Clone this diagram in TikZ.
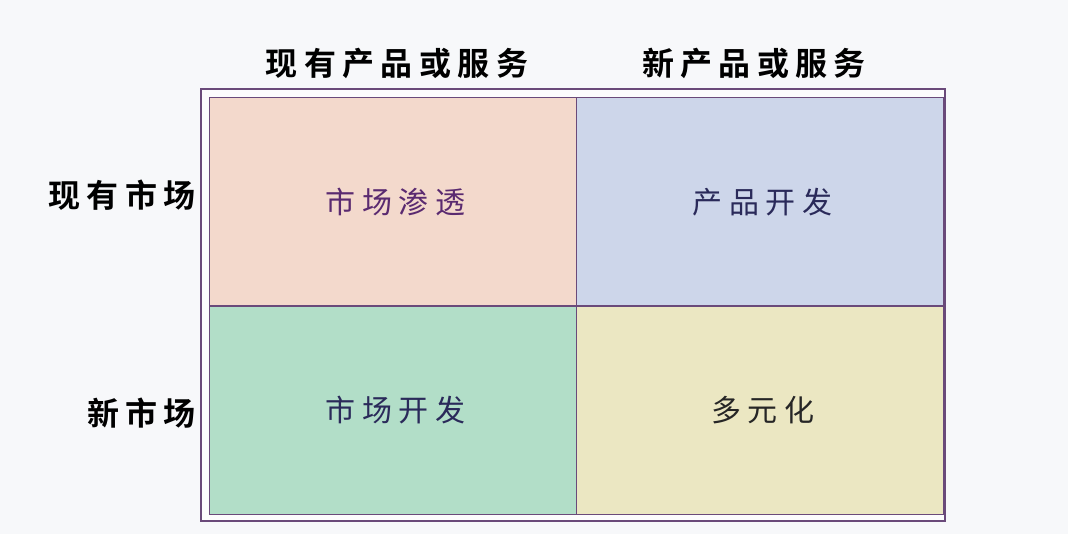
\documentclass[tikz,border=0pt]{standalone}
\usepackage{fontspec}
\newfontfamily\cjk{Noto Sans CJK SC}
\newfontfamily\cjkb{Noto Sans CJK SC Bold}[LetterSpace=20]
\newfontfamily\cjkl{Noto Sans CJK SC}[LetterSpace=22]
\definecolor{bg}{HTML}{F7F8FA}
\definecolor{frame}{HTML}{6A4A7A}
\definecolor{cpeach}{HTML}{F3D9CC}
\definecolor{cblue}{HTML}{CDD6EA}
\definecolor{cgreen}{HTML}{B2DEC8}
\definecolor{cyellow}{HTML}{EBE7C2}
\definecolor{tpurple}{HTML}{5A2A70}
\definecolor{tnavy}{HTML}{2A2A5A}
\tikzset{
  head/.style={font=\cjkb\fontsize{32}{32}\selectfont, text=black, inner sep=0pt},
  cell/.style={draw=frame, line width=1.2pt, minimum width=367pt, minimum height=208.5pt, inner sep=0pt},
  lab/.style={font=\cjkl\fontsize{30}{30}\selectfont, inner sep=0pt},
}
\begin{document}
\begin{tikzpicture}[x=1pt,y=-1pt]
\fill[bg] (0,0) rectangle (1068,534);
\useasboundingbox (0,0) rectangle (1068,534);
\draw[frame, line width=1.6pt, fill=white!60!bg] (201,89) rectangle (945,521);
\node[cell, fill=cpeach, anchor=north west] (tl) at (208.5,97) {};
\node[cell, fill=cblue, anchor=north west] (tr) at (575.5,97) {};
\node[cell, fill=cgreen, anchor=north west] (bl) at (208.5,305.5) {};
\node[cell, fill=cyellow, anchor=north west] (br) at (575.5,305.5) {};
\node[lab, text=tpurple] (t1) at ([xshift=3pt]tl.center) {市场渗透};
\node[lab, text=tnavy] (t2) at ([xshift=3pt]tr.center) {产品开发};
\node[lab, text=tnavy] (t3) at ([xshift=3pt]bl.center) {市场开发};
\node[lab, text=black!85] (t4) at ([xshift=3pt]br.center) {多元化};
\node[head] (h1) at (397,63) {现有产品或服务};
\node[head] (h2) at (754,63) {新产品或服务};
\node[head, anchor=east] (r1) at (196,195) {现有市场};
\node[head, anchor=east] (r2) at (196,413) {新市场};
\end{tikzpicture}
\end{document}
